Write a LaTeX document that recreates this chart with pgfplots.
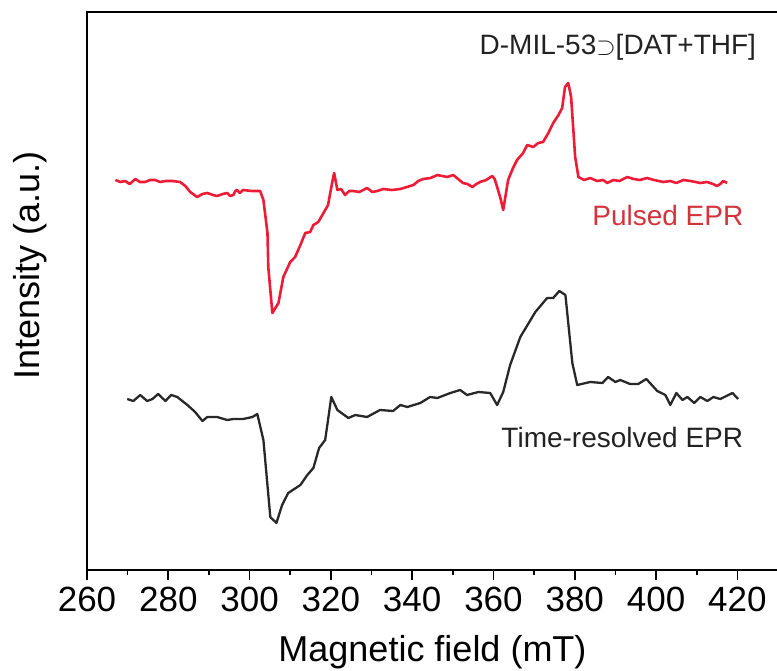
\documentclass[border=0pt]{standalone}
\usepackage{fontspec}
\setmainfont{Liberation Sans}
\usepackage{pgfplots}
\pgfplotsset{compat=1.18}
\definecolor{redline}{RGB}{237,28,54}
\definecolor{redtext}{RGB}{210,52,60}
\definecolor{darkline}{RGB}{40,40,40}
\definecolor{darktext}{RGB}{34,34,34}
\begin{document}
\begin{tikzpicture}
\begin{axis}[
  scale only axis,
  width=691pt, height=558pt,
  xmin=260, xmax=430, ymin=0, ymax=558,
  xtick={260,280,...,420},
  minor x tick num=1,
  ytick=\empty,
  xtick pos=bottom,
  tick align=outside,
  major tick length=10pt,
  minor tick length=5pt,
  every tick/.style={black, line width=1.6pt},
  axis line style={line width=1.8pt},
  /pgf/number format/assume math mode=true,
  tick label style={font=\fontsize{35}{40}\selectfont},
  xticklabel style={yshift=-4pt},
  label style={font=\fontsize{36}{40}\selectfont},
  xlabel={Magnetic field (mT)},
  ylabel={Intensity (a.u.)},
  ylabel style={at={(axis description cs:-0.0825,0.545)},anchor=center},
  xlabel style={yshift=-16pt},
  clip=false,
]
\addplot[redline, line width=2.6pt, line join=round] coordinates {
(267.0,390)(268.2,388)(269.4,389)(270.5,386)(271.9,391)(273.0,388)(274.3,388)(275.5,390)(276.8,390)(278.0,388)(279.3,389)(281.0,389)(282.9,388)(284.2,384)(285.4,378)(287.1,373)(288.4,376)(289.6,377)(291.0,375)(292.0,374)(293.4,376)(294.5,377)(295.2,374)(296.0,375)(296.5,379)(296.9,380)(297.6,377)(298.4,380)(300.5,379)(302.6,379)(303.4,370)(304.4,337)(304.6,303)(305.6,257)(307.1,267)(308.3,293)(310.0,308)(311.2,313)(312.5,325)(313.7,337)(314.9,338)(315.7,345)(316.9,348)(317.9,355)(319.3,365)(320.3,387)(320.8,397)(321.6,380)(322.5,381)(323.5,375)(324.5,379)(325.5,379)(327.0,378)(328.9,382)(330.2,378)(331.4,379)(332.9,381)(335.0,380)(337.1,381)(338.7,383)(340.3,385)(341.5,389)(342.7,391)(344.5,392)(346.2,395)(347.4,394)(348.6,393)(350.1,395)(351.3,391)(352.5,387)(353.6,386)(354.8,383)(355.8,386)(356.7,388)(358.2,390)(359.7,394)(360.3,391)(360.9,383)(361.7,372)(362.4,360)(363.6,390)(364.7,401)(365.8,410)(367.3,417)(368.3,425)(369.8,423)(371.0,427)(372.2,428)(373.5,437)(374.7,447)(376.0,455)(376.9,462)(377.6,483)(378.4,487)(379.1,473)(380.1,413)(380.9,393)(382.3,390)(383.8,392)(385.5,389)(387.0,390)(388.0,387)(389.5,390)(391.0,389)(392.9,393)(394.5,391)(396.0,390)(397.8,392)(399.5,390)(401.8,388)(403.5,389)(405.0,387)(406.7,390)(408.5,389)(410.9,387)(412.5,388)(414.0,386)(415.0,384)(415.8,386)(416.5,389)(417.5,387)
};
\addplot[darkline, line width=2.3pt, line join=round] coordinates {
(269.9,171)(271.4,169)(273.1,175)(274.8,169)(276.1,171)(277.5,176)(279.3,169)(280.7,175)(282.2,173)(284.7,165)(286.6,158)(288.4,149)(289.6,153)(292.0,153)(294.5,150)(296.0,151)(298.4,151)(300.7,153)(301.9,156)(303.4,130)(305.1,53)(306.6,47)(308.0,65)(309.5,77)(312.5,85)(314.2,95)(315.7,102)(317.1,122)(318.6,130)(320.1,173)(321.6,160)(324.3,152)(326.0,155)(328.9,153)(332.1,160)(335.3,159)(337.1,165)(338.8,163)(342.0,167)(344.4,173)(346.2,172)(349.4,177)(351.8,180)(353.5,175)(356.3,178)(359.2,177)(360.9,165)(362.4,178)(364.1,205)(366.6,233)(370.3,258)(373.2,272)(374.7,272)(376.2,279)(377.7,275)(379.4,207)(380.6,185)(383.8,188)(386.8,187)(388.2,193)(390.0,188)(391.2,190)(393.6,186)(395.6,186)(397.6,191)(400.3,179)(402.3,175)(403.5,165)(405.0,177)(406.5,170)(407.7,173)(409.4,167)(410.9,173)(412.6,169)(414.1,173)(415.8,171)(418.8,177)(420.2,171)
};
\node[anchor=base, text=darktext, font=\fontsize{28}{32}\selectfont] at (axis cs:390.6,515) {D-MIL-53$\supset$[DAT+THF]};
\node[anchor=base, text=redtext, font=\fontsize{28}{32}\selectfont] at (axis cs:402.9,344) {Pulsed EPR};
\node[anchor=base, text=darktext, font=\fontsize{28}{32}\selectfont] at (axis cs:391.7,123) {Time-resolved EPR};
\end{axis}
\pgfresetboundingbox
\path[use as bounding box] (-87pt,-100pt) rectangle (690pt,570pt);
\end{tikzpicture}
\end{document}
